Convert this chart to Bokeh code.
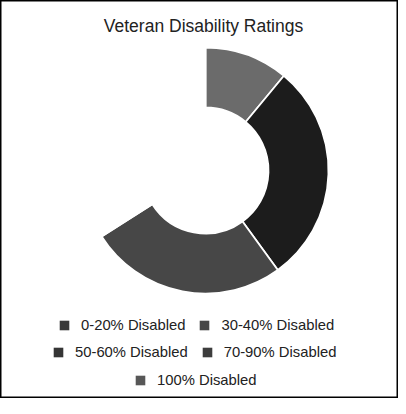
import math
from bokeh.plotting import figure
from bokeh.models import ColumnDataSource, Legend, LegendItem, Label, Range1d
from bokeh.embed import file_html
from bokeh.resources import INLINE

# ---- data ----
chart_title = "Veteran Disability Ratings"
categories = ["0-20% Disabled", "30-40% Disabled", "50-60% Disabled",
              "70-90% Disabled", "100% Disabled"]
shares = [11, 29, 26, 19, 15]
slice_colors = ["#6b6b6b", "#1c1c1c", "#474747", "#ffffff", "#ffffff"]
swatch_colors = ["#3a3a3a", "#474747", "#353535", "#3d3d3d", "#575757"]
legend_rows = [[0, 1], [2, 3], [4]]

# ---- layout ----
W, H = 398, 398
cx, cy = 205, 228
r_in, r_out = 63, 123

total = float(sum(shares))
starts, ends = [], []
acc = 0.0
for s in shares:
    a0 = acc / total * 2 * math.pi
    acc += s
    a1 = acc / total * 2 * math.pi
    starts.append(math.pi / 2 - a0)
    ends.append(math.pi / 2 - a1)

src = ColumnDataSource(dict(cat=categories, start=starts, end=ends, color=slice_colors))

p = figure(width=W, height=H, x_range=Range1d(0, W), y_range=Range1d(0, H),
           output_backend="svg", toolbar_location=None, min_border=0,
           x_axis_type=None, y_axis_type=None)
p.grid.visible = False
p.outline_line_color = "black"
p.outline_line_width = 2
p.background_fill_color = "white"
p.border_fill_color = "white"

p.annular_wedge(x=cx, y=cy, inner_radius=r_in, outer_radius=r_out,
                start_angle="start", end_angle="end", direction="clock",
                fill_color="color", line_color="white", line_width=1.8, source=src)

p.add_layout(Label(x=203, y=372.5, text=chart_title, text_align="center",
                   text_baseline="alphabetic", text_font="Liberation Sans",
                   text_font_size="17.5px", text_color="#222222"))

nan = float("nan")
swatch_renderers = []
for c in swatch_colors:
    r = p.quad(left=[nan], right=[nan], top=[nan], bottom=[nan],
               fill_color=c, line_color=None)
    swatch_renderers.append(r)

row_locs = [(58, 65), (52, 38), (134, 10)]
for row, loc in zip(legend_rows, row_locs):
    items = [LegendItem(label=categories[i], renderers=[swatch_renderers[i]]) for i in row]
    lg = Legend(items=items, orientation="horizontal", location=loc,
                padding=0, margin=0, spacing=13, glyph_width=12, glyph_height=12,
                label_standoff=11, label_text_font="Liberation Sans",
                label_text_font_size="14.8px", label_text_color="#222222",
                border_line_color=None, background_fill_alpha=0)
    p.add_layout(lg)

open("out.html", "w").write(file_html(p, INLINE))
